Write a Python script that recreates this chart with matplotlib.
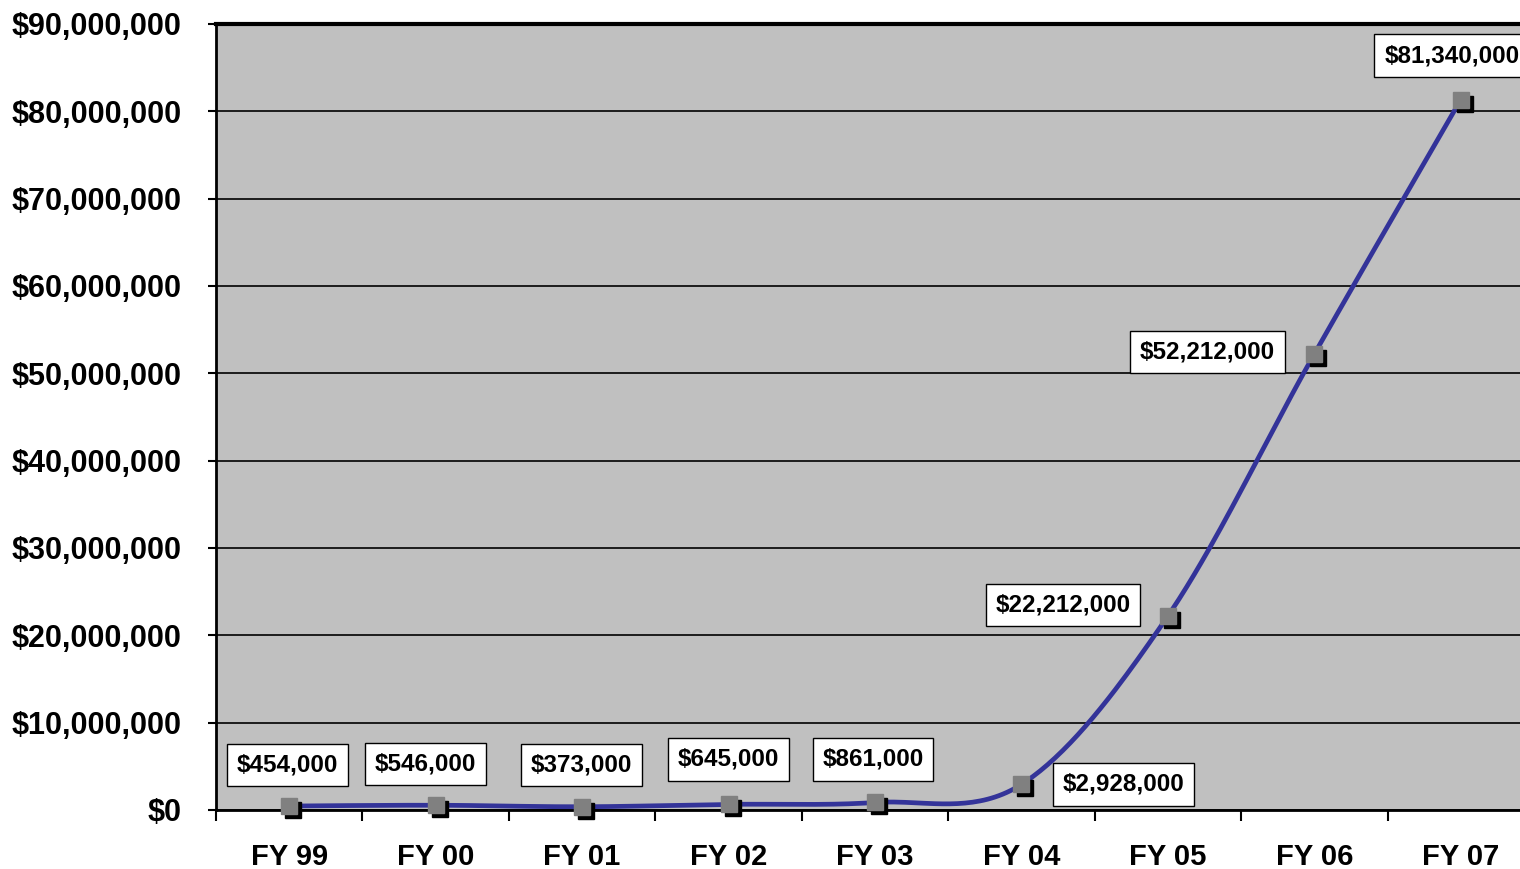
import matplotlib
matplotlib.use("Agg")
import matplotlib.pyplot as plt
import matplotlib.transforms as mtransforms
from matplotlib.ticker import FuncFormatter, MultipleLocator
import numpy as np

categories = ["FY 99", "FY 00", "FY 01", "FY 02", "FY 03", "FY 04", "FY 05", "FY 06", "FY 07"]
values = [454000, 546000, 373000, 645000, 861000, 2928000, 22212000, 52212000, 81340000]
labels = ["$454,000", "$546,000", "$373,000", "$645,000", "$861,000",
          "$2,928,000", "$22,212,000", "$52,212,000", "$81,340,000"]
# label offsets in pixels (dx, dy) relative to the data point
label_offsets_px = [(-2, 41), (-10, 41), (-1, 42), (0, 45), (-2, 43),
                    (102, 0), (-105, 11), (-107, 2), (-9, 44)]

plt.rcParams['font.family'] = ['Liberation Sans', 'DejaVu Sans']
plt.rcParams['font.weight'] = 'bold'

W, H = 1520, 869
fig = plt.figure(figsize=(W / 100, H / 100), dpi=100)
fig.patch.set_facecolor('white')
ax = fig.add_axes([216 / W, 1 - 810 / H, 1318 / W, (810 - 24) / H])
ax.set_facecolor('#C0C0C0')

x = np.arange(len(values))
y = np.array(values, dtype=float)

# Catmull-Rom style smoothing (as in Excel smoothed lines)
pts = np.column_stack([x, y])
ext = np.vstack([pts[0], pts, pts[-1]])
curve = []
t = np.linspace(0, 1, 40)
for i in range(len(pts) - 1):
    p0, p1, p2, p3 = ext[i], ext[i + 1], ext[i + 2], ext[i + 3]
    c1 = p1 + (p2 - p0) / 6
    c2 = p2 - (p3 - p1) / 6
    seg = ((1 - t)[:, None] ** 3 * p1 + 3 * (1 - t)[:, None] ** 2 * t[:, None] * c1
           + 3 * (1 - t)[:, None] * t[:, None] ** 2 * c2 + t[:, None] ** 3 * p2)
    curve.append(seg)
curve = np.vstack(curve)

ax.set_xlim(-0.5, 8.5)
ax.set_ylim(0, 90000000)

ax.yaxis.set_major_locator(MultipleLocator(10000000))
ax.grid(axis='y', color='black', linewidth=1.2, zorder=1)
ax.set_axisbelow(True)

ax.plot(curve[:, 0], curve[:, 1], color='#333399', linewidth=3.4, zorder=3, solid_capstyle='round')

shadow = mtransforms.offset_copy(ax.transData, fig=fig, x=4, y=-4, units='dots')
ax.plot(x, y, linestyle='none', marker='s', markersize=12, color='black',
        transform=shadow, zorder=4, clip_on=False)
ax.plot(x, y, linestyle='none', marker='s', markersize=12, markerfacecolor='#808080',
        markeredgecolor='#808080', zorder=5, clip_on=False)

for xi, yi, lab, (dx, dy) in zip(x, y, labels, label_offsets_px):
    ax.annotate(lab, (xi, yi), xytext=(dx * 0.72, dy * 0.72), textcoords='offset points',
                ha='center', va='center', fontsize=17.5, fontweight='bold', color='black',
                bbox=dict(boxstyle='square,pad=0.4', facecolor='white', edgecolor='black', linewidth=1.0),
                zorder=6, annotation_clip=False)

ax.yaxis.set_major_formatter(FuncFormatter(lambda v, p: "${:,.0f}".format(v)))
ax.tick_params(axis='y', direction='out', length=6, width=1.5, labelsize=22, pad=19, colors='black')

ax.set_xticks(x)
ax.set_xticklabels(categories, fontsize=21, fontweight='bold')
ax.tick_params(axis='x', which='major', length=0, pad=24)
ax.set_xticks(np.arange(-0.5, 9.0, 1.0), minor=True)
ax.tick_params(axis='x', which='minor', direction='out', length=8, width=1.5)
for lab in ax.get_yticklabels():
    lab.set_fontweight('bold')

for side in ['left', 'bottom']:
    ax.spines[side].set_linewidth(2)
ax.spines['top'].set_linewidth(3)
ax.spines['right'].set_visible(False)

fig.savefig('out.png', dpi=100, facecolor='white')
